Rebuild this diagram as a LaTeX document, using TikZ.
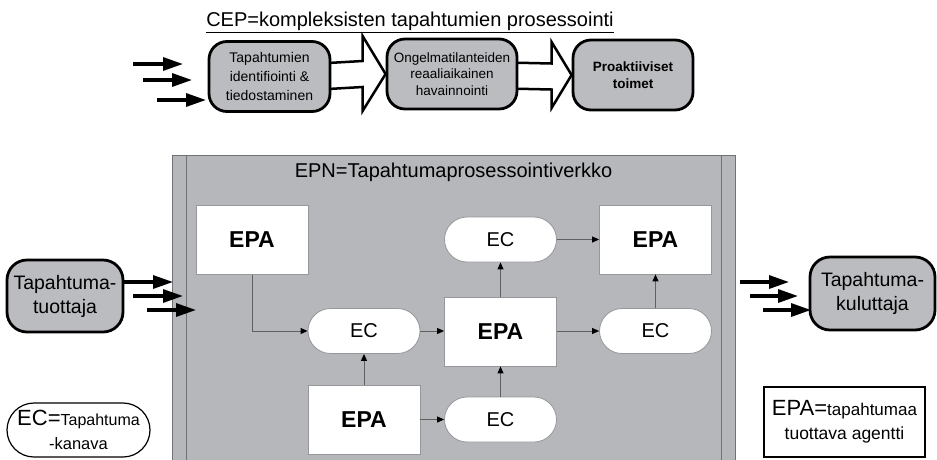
\documentclass[tikz,border=0pt]{standalone}
\usepackage{fontspec}
\setmainfont{Liberation Sans}
\usetikzlibrary{arrows.meta,calc,backgrounds}

\definecolor{panelfill}{RGB}{181,183,187}
\definecolor{panelline}{RGB}{112,113,118}
\definecolor{cepfill}{RGB}{187,188,192}
\definecolor{boxline}{RGB}{150,151,155}
\definecolor{wireline}{RGB}{95,95,98}

\newcommand{\fs}[2]{\fontsize{#1}{#2}\selectfont}

\begin{document}
\begin{tikzpicture}[x=1pt,y=-1pt,
  cepbox/.style={draw=black, line width=2.8pt, fill=cepfill, rounded corners=18pt,
    inner sep=0pt, align=center, minimum height=70pt},
  endpoint/.style={draw=black, line width=2.8pt, fill=cepfill, rounded corners=20pt,
    inner sep=0pt, align=center, font=\fs{19.5}{24}},
  epabox/.style={draw=boxline, line width=0.8pt, fill=white, inner sep=0pt,
    minimum width=112pt, minimum height=69pt, font=\fs{23}{27}\bfseries},
  ecbox/.style={draw=boxline, line width=0.8pt, fill=white, rounded corners=22.5pt,
    inner sep=0pt, minimum width=112pt, minimum height=45pt, font=\fs{20}{24}},
  wire/.style={draw=wireline, line width=0.9pt,
    -{Triangle[length=7pt,width=6pt,color=black]}},
  feed/.style={line width=3.2pt, -{Triangle[length=20pt,width=13pt]}},
  blockarrow/.style={draw=black, line width=2.5pt, fill=white, line join=miter},
]
\useasboundingbox (0,0) rectangle (937,459);

% ---- CEP pipeline ----
\node[anchor=base, font=\fs{20}{24}] (ceptitle) at (410,26.7)
  {\underline{CEP=kompleksisten tapahtumien prosessointi}};

\node[cepbox, minimum width=121pt, font=\fs{14}{19}] (ident) at (269.5,76.5)
  {Tapahtumien\\identifiointi \&\\tiedostaminen};
\node[cepbox, minimum width=130pt, font=\fs{13.5}{16.5}] (detect) at (452,74)
  {Ongelmatilanteiden\\reaaliaikainen\\havainnointi};
\node[cepbox, minimum width=120pt, font=\fs{13.5}{16.5}\bfseries] (proact) at (633,75)
  {Proaktiiviset\\toimet};

\begin{scope}[on background layer]
  \draw[blockarrow] ($(ident.east)+(-12,-13)$) -- ($(detect.west)+(-23,-13)$)
    -- ($(detect.west)+(-23,-38)$) -- (detect.west) -- ($(detect.west)+(-23,37)$)
    -- ($(detect.west)+(-23,13)$) -- ($(ident.east)+(-12,13)$) -- cycle;
  \draw[blockarrow] ($(detect.east)+(-12,-11.5)$) -- ($(proact.west)+(-20,-11.5)$)
    -- ($(proact.west)+(-20,-33)$) -- (proact.west) -- ($(proact.west)+(-20,33)$)
    -- ($(proact.west)+(-20,14.5)$) -- ($(detect.east)+(-12,14.5)$) -- cycle;
\end{scope}

\coordinate (ca1) at (133,64);  \coordinate (cb1) at (183,64);
\coordinate (ca2) at (143,80);  \coordinate (cb2) at (192,80);
\coordinate (ca3) at (157,100); \coordinate (cb3) at (206,100);
\draw[feed] (ca1) -- (cb1);
\draw[feed] (ca2) -- (cb2);
\draw[feed] (ca3) -- (cb3);

% ---- event processing network panel ----
\path[fill=panelfill, draw=panelline, line width=0.8pt] (172,155) rectangle (735,470);
\coordinate (lt) at (186,155); \coordinate (lb) at (186,470);
\coordinate (rt) at (721,155); \coordinate (rb) at (721,470);
\draw[panelline, line width=0.8pt] (lt) -- (lb);
\draw[panelline, line width=0.8pt] (rt) -- (rb);

\node[font=\fs{20}{24}] (epntitle) at (453.5,172) {EPN=Tapahtumaprosessointiverkko};

\node[epabox] (epa1)  at (252,240)   {EPA};
\node[ecbox]  (ectop) at (500.5,239.5) {EC};
\node[epabox] (epatr) at (655.5,239.5) {EPA};
\node[ecbox]  (ecml)  at (364,331)   {EC};
\node[epabox] (epac)  at (500.5,331.5) {EPA};
\node[ecbox]  (ecmr)  at (655.5,331) {EC};
\node[epabox] (epab)  at (364,419.5) {EPA};
\node[ecbox]  (ecb)   at (500.5,419.5) {EC};

\draw[wire] (epa1.south) |- (ecml.west);
\draw[wire] (ecml.east) -- (ecml.east -| epac.west);
\draw[wire] (epac.east |- ecmr.west) -- (ecmr.west);
\draw[wire] (ecmr.north) -- (epatr.south);
\draw[wire] (epac.north) -- (ectop.south);
\draw[wire] (ectop.east) -- (epatr.west);
\draw[wire] (epab.north) -- (ecml.south);
\draw[wire] (epab.east) -- (ecb.west);
\draw[wire] (ecb.north) -- (epac.south);

% ---- producer and consumer ----
\node[endpoint, minimum width=116pt, minimum height=72pt] (producer) at (65,296)
  {Tapahtuma-\\tuottaja};
\node[endpoint, minimum width=125pt, minimum height=73pt] (consumer) at (872.5,293.5)
  {Tapahtuma-\\kuluttaja};

\coordinate (pa1) at (123,282); \coordinate (pb1) at (173,282);
\coordinate (pa2) at (133,296); \coordinate (pb2) at (183,296);
\coordinate (pa3) at (147,310); \coordinate (pb3) at (196,310);
\draw[feed] (pa1) -- (pb1);
\draw[feed] (pa2) -- (pb2);
\draw[feed] (pa3) -- (pb3);

\coordinate (qa1) at (740,282); \coordinate (qb1) at (789,282);
\coordinate (qa2) at (750,296); \coordinate (qb2) at (798,296);
\coordinate (qa3) at (763,310); \coordinate (qb3) at (811,310);
\draw[feed] (qa1) -- (qb1);
\draw[feed] (qa2) -- (qb2);
\draw[feed] (qa3) -- (qb3);

% ---- legends ----
\node[draw=black, line width=1.2pt, rounded corners=27pt, inner sep=0pt,
  minimum width=143pt, minimum height=54pt, align=center, font=\fs{16.5}{24}]
  (eclegend) at (78.5,430)
  {{\fs{22}{24}EC=}{\fs{16}{24}Tapahtuma}\\-kanava};
\node[draw=black, line width=2.8pt, inner sep=0pt,
  minimum width=161pt, minimum height=70pt, align=center, font=\fs{17.5}{24}]
  (epalegend) at (844.5,422)
  {{\fs{22}{24}EPA=}{\fs{17}{24}tapahtumaa}\\tuottava agentti};
\end{tikzpicture}
\end{document}
